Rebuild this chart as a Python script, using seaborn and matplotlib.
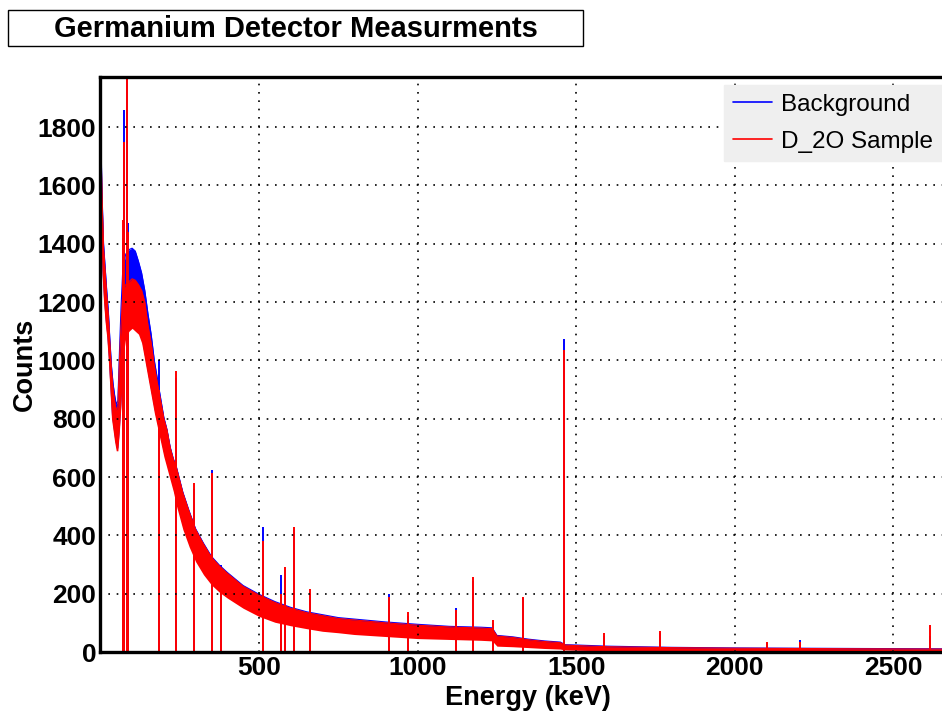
import matplotlib
matplotlib.use("Agg")
import matplotlib.pyplot as plt
from matplotlib.patches import Rectangle
from matplotlib.lines import Line2D
from matplotlib.ticker import MultipleLocator
import seaborn as sns
import pandas as pd

# ---------------- data ----------------
energy = [1, 5, 10, 15, 20, 25, 30, 35, 40, 45, 50, 55, 60, 65, 70, 75, 80, 90,
          100, 110, 120, 130, 140, 150, 160, 170, 180, 190, 200, 210, 220, 230,
          240, 260, 280, 300, 325, 350, 375, 400, 450, 500, 550, 600, 650, 700,
          750, 800, 900, 1000, 1100, 1200, 1235, 1250, 1300, 1350, 1400, 1450,
          1465, 1500, 1600, 1800, 2000, 2200, 2400, 2653]

sample_low = [1450, 1300, 1200, 1130, 1080, 1000, 900, 800, 760, 720, 690, 690,
              760, 850, 980, 1040, 1080, 1100, 1110, 1100, 1090, 1060, 1000, 940,
              880, 820, 770, 720, 670, 630, 590, 550, 500, 420, 360, 310, 265,
              230, 205, 185, 150, 122, 102, 90, 80, 71, 66, 60, 53, 46, 43, 40,
              38, 20, 18, 15, 12, 10, 7, 6, 4, 3, 2, 2, 2, 2]
sample_high = [1780, 1560, 1380, 1300, 1220, 1150, 1050, 960, 900, 860, 830, 840,
               1000, 1120, 1220, 1250, 1260, 1270, 1280, 1275, 1260, 1240, 1200,
               1120, 1060, 980, 920, 860, 800, 760, 700, 660, 630, 545, 480, 420,
               370, 325, 295, 270, 225, 195, 170, 150, 135, 125, 115, 110, 100,
               92, 86, 82, 80, 55, 50, 42, 36, 32, 24, 22, 18, 15, 13, 12, 11, 10]

bg_low = [1460, 1310, 1210, 1140, 1090, 1010, 910, 810, 770, 730, 700, 700,
          770, 860, 990, 1060, 1100, 1120, 1130, 1120, 1100, 1070, 1010, 950,
          890, 830, 780, 730, 680, 640, 600, 560, 510, 430, 370, 320, 275,
          240, 215, 195, 160, 132, 112, 98, 88, 79, 72, 66, 58, 52, 48, 45,
          43, 24, 22, 18, 15, 12, 9, 8, 6, 4, 3, 3, 3, 3]
bg_high = [1800, 1580, 1400, 1320, 1240, 1170, 1070, 980, 920, 880, 850, 860,
           1030, 1180, 1300, 1340, 1365, 1380, 1385, 1375, 1340, 1300, 1240,
           1160, 1090, 1000, 935, 870, 805, 763, 703, 663, 633, 548, 483, 423,
           373, 328, 298, 273, 228, 198, 173, 153, 138, 128, 118, 113, 103,
           95, 88, 85, 83, 57, 52, 44, 38, 34, 25, 24, 20, 16, 14, 13, 12, 11]

peak_energy = [70, 74, 85, 88, 186, 239, 295, 352, 380, 511, 568, 583, 609, 662,
               911, 969, 1120, 1173, 1238, 1332, 1461, 1588, 1764, 2100, 2204, 2614]
peak_bg = [1420, 1860, 2000, 1470, 1000, 940, 560, 625, 300, 430, 265, 280, 420,
           200, 200, 125, 151, 245, 100, 185, 1075, 55, 65, 30, 41, 55]
peak_sample = [1480, 1750, 2000, 1440, 900, 965, 580, 615, 260, 380, 200, 290, 430,
               215, 190, 137, 145, 257, 110, 189, 1035, 65, 72, 34, 35, 93]

series_names = ["Background", "D_2O Sample"]
x_ticks = [500, 1000, 1500, 2000, 2500]
y_ticks = [0, 200, 400, 600, 800, 1000, 1200, 1400, 1600, 1800]

# ---------------- styling ----------------
sns.set_style("white")
plt.rcParams["font.family"] = ["Liberation Sans", "DejaVu Sans"]
plt.rcParams["text.color"] = "black"
plt.rcParams["axes.labelcolor"] = "black"
plt.rcParams["xtick.color"] = "black"
plt.rcParams["ytick.color"] = "black"

BLUE = "#0000ff"
RED = "#ff0000"

fig = plt.figure(figsize=(9.42, 7.15), dpi=100)
ax = fig.add_axes([100.4 / 942, 1 - 652 / 715, (942 - 100.4) / 942, (652 - 77) / 715])

df = pd.DataFrame({"energy": energy, "bg_low": bg_low, "bg_high": bg_high,
                   "s_low": sample_low, "s_high": sample_high})
pk = pd.DataFrame({"energy": peak_energy, "bg": peak_bg, "sample": peak_sample})

# background (blue)
ax.fill_between(df["energy"], df["bg_low"], df["bg_high"], color=BLUE, lw=0, zorder=1)
sns.lineplot(data=df, x="energy", y="bg_high", color=BLUE, lw=0.8, ax=ax, zorder=1)
ax.vlines(pk["energy"], 0, pk["bg"], color=BLUE, lw=1.4, zorder=1.1)

# sample (red)
ax.fill_between(df["energy"], df["s_low"], df["s_high"], color=RED, lw=0, zorder=1.5)
sns.lineplot(data=df, x="energy", y="s_high", color=RED, lw=0.8, ax=ax, zorder=1.5)
ax.vlines(pk["energy"], 0, pk["sample"], color=RED, lw=1.4, zorder=1.6)

ax.set_xlim(0, 2653)
ax.set_ylim(0, 1972)

ax.set_xticks(x_ticks)
ax.set_yticks(y_ticks)
ax.xaxis.set_minor_locator(MultipleLocator(100))
ax.yaxis.set_minor_locator(MultipleLocator(50))

ax.tick_params(axis="both", which="both", direction="in", width=1.6, colors="black",
               top=False, right=False)
ax.tick_params(axis="y", which="major", length=14, pad=3)
ax.tick_params(axis="y", which="minor", length=8)
ax.tick_params(axis="x", which="major", length=12, pad=3)
ax.tick_params(axis="x", which="minor", length=6)
for lab in ax.get_xticklabels() + ax.get_yticklabels():
    lab.set_fontsize(19)
    lab.set_fontweight("bold")

ax.grid(True, which="major", color="black", linestyle=(0, (1, 4)), linewidth=1.2)
ax.set_axisbelow(False)

for side in ["left", "top", "bottom"]:
    ax.spines[side].set_linewidth(2.4)
    ax.spines[side].set_color("black")
ax.spines["right"].set_visible(False)

ax.set_xlabel("Energy (keV)", fontsize=19.5, fontweight="bold", va="center")
ax.set_ylabel("Counts", fontsize=19.5, fontweight="bold", va="center")
ax.xaxis.set_label_coords((528 - 100.4) / 841.6, (652 - 698) / 575)
ax.yaxis.set_label_coords((25 - 100.4) / 841.6, 0.5)

# legend
handles = [Line2D([0], [0], color=BLUE, lw=1.2), Line2D([0], [0], color=RED, lw=1.2)]
leg = ax.legend(handles, series_names, loc="upper right",
                bbox_to_anchor=(1.0, (652 - 85) / 575), fontsize=17.5,
                frameon=True, fancybox=False, facecolor="#efefef", edgecolor="#efefef",
                framealpha=1, handlelength=1.6, handletextpad=0.4, borderpad=0.35,
                labelspacing=0.62, borderaxespad=0)

# title box
fig.add_artist(Rectangle((8 / 942, 1 - 46 / 715), 575 / 942, 36 / 715,
                         transform=fig.transFigure, facecolor="white",
                         edgecolor="black", lw=1.0))
fig.text(296 / 942, 1 - 29 / 715, "Germanium Detector Measurments",
         ha="center", va="center", fontsize=21, fontweight="bold")

fig.savefig("out.png", dpi=100)
